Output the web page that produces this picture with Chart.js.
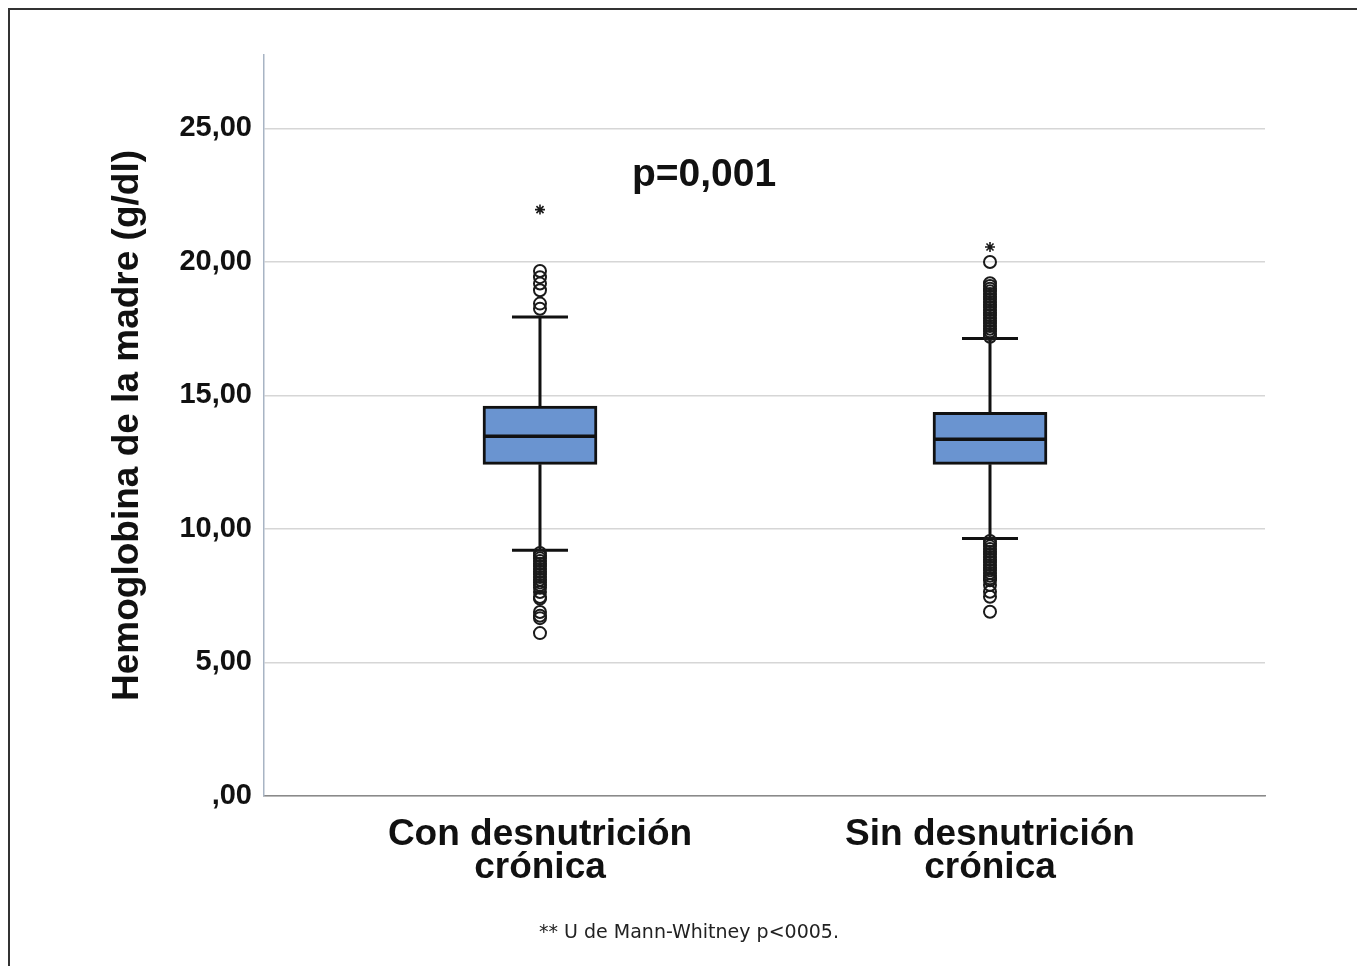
<!DOCTYPE html>
<html>
<head>
<meta charset="utf-8">
<script src="https://cdn.jsdelivr.net/npm/chart.js@4.4.0/dist/chart.umd.min.js"></script>
<style>
  html, body { margin: 0; padding: 0; background: #fff; }
  #wrap { position: relative; width: 1357px; height: 966px; overflow: hidden; }
  #frame { position: absolute; left: 8px; top: 8px; width: 1400px; height: 1000px;
           border-left: 2px solid #333; border-top: 2px solid #333; }
  canvas { position: absolute; left: 0; top: 0; }
  #pval { position: absolute; left: 604px; top: 153px; width: 200px; text-align: center;
          font: bold 39px "Liberation Sans", Arial, sans-serif; line-height: 39px; color: #111; }
  #note { position: absolute; left: 489px; top: 922px; width: 400px; text-align: center;
          font: 19px "DejaVu Sans", Verdana, sans-serif; line-height: 19px; color: #222; }
</style>
</head>
<body>
<div id="wrap">
  <div id="frame"></div>
  <canvas id="boxChart" width="1357" height="966"></canvas>
  <div id="pval">p=0,001</div>
  <div id="note">** U de Mann-Whitney p&lt;0005.</div>
</div>
<script>
// groups on the x axis
const categories = [['Con desnutrición', 'crónica'], ['Sin desnutrición', 'crónica']];

// box statistics (g/dl)
const q1 = [12.42, 12.42];
const median = [13.47, 13.36];
const q3 = [14.60, 14.37];
const whiskerLow = [9.20, 9.64];
const whiskerHigh = [17.94, 17.13];

// outliers (circles) and extremes (stars)
const outliersCon = [19.66, 19.43, 19.19, 18.94, 18.44, 18.25,
  9.1, 9.0, 8.9, 8.8, 8.7, 8.6, 8.5, 8.4, 8.3, 8.2, 8.1, 8.0, 7.9, 7.8, 7.64, 7.45, 7.39, 6.89, 6.75, 6.66, 6.1];
const outliersSin = [20.0, 19.2, 19.1, 19.0, 18.9, 18.8, 18.7, 18.6, 18.5, 18.4, 18.3, 18.2, 18.1, 18.0,
  17.9, 17.8, 17.7, 17.6, 17.5, 17.4, 17.3, 17.2,
  9.55, 9.45, 9.35, 9.25, 9.15, 9.05, 8.95, 8.85, 8.75, 8.65, 8.55, 8.45, 8.35, 8.25, 8.15, 8.08,
  7.9, 7.65, 7.46, 6.9];
const extremesCon = [21.96];
const extremesSin = [20.56];

const yTicks = [0, 5, 10, 15, 20, 25];

const fontFamily = '"Liberation Sans", Arial, sans-serif';

const toPoints = (vals, i) => vals.map(v => ({ x: i, y: v }));

// whiskers behind the boxes, median line on top
const boxLines = {
  id: 'boxLines',
  beforeDatasetsDraw(chart) {
    const { ctx, scales: { x, y } } = chart;
    ctx.save();
    ctx.strokeStyle = '#111';
    ctx.lineWidth = 3;
    categories.forEach((c, i) => {
      const px = x.getPixelForValue(i);
      ctx.beginPath();
      ctx.moveTo(px, y.getPixelForValue(whiskerHigh[i]));
      ctx.lineTo(px, y.getPixelForValue(q3[i]));
      ctx.moveTo(px, y.getPixelForValue(q1[i]));
      ctx.lineTo(px, y.getPixelForValue(whiskerLow[i]));
      [whiskerHigh[i], whiskerLow[i]].forEach(v => {
        const py = y.getPixelForValue(v);
        ctx.moveTo(px - 28, py);
        ctx.lineTo(px + 28, py);
      });
      ctx.stroke();
    });
    ctx.restore();
  },
  afterDatasetsDraw(chart) {
    const { ctx, scales: { x, y } } = chart;
    ctx.save();
    ctx.strokeStyle = '#111';
    ctx.lineWidth = 3.5;
    categories.forEach((c, i) => {
      const px = x.getPixelForValue(i);
      const py = y.getPixelForValue(median[i]);
      ctx.beginPath();
      ctx.moveTo(px - 57, py);
      ctx.lineTo(px + 57, py);
      ctx.stroke();
    });
    ctx.restore();
  }
};

const ctx = document.getElementById('boxChart').getContext('2d');
const chart = new Chart(ctx, {
  type: 'bar',
  data: {
    datasets: [
      {
        type: 'scatter',
        data: toPoints(outliersCon, 0).concat(toPoints(outliersSin, 1)),
        pointStyle: 'circle',
        pointRadius: 6,
        borderWidth: 2,
        borderColor: '#1a1a1a',
        backgroundColor: 'rgba(255,255,255,0)'
      },
      {
        type: 'scatter',
        data: toPoints(extremesCon, 0).concat(toPoints(extremesSin, 1)),
        pointStyle: 'star',
        pointRadius: 5,
        borderWidth: 1.6,
        borderColor: '#1a1a1a'
      },
      {
        type: 'bar',
        data: categories.map((c, i) => ({ x: i, y: [q1[i], q3[i]] })),
        barThickness: 114,
        backgroundColor: '#6a94d0',
        borderColor: '#111',
        borderWidth: 3,
        borderSkipped: false
      }
    ]
  },
  options: {
    responsive: false,
    animation: false,
    devicePixelRatio: 1,
    layout: { padding: { left: 106, right: 92, top: 55, bottom: 0 } },
    plugins: { legend: { display: false }, tooltip: { enabled: false } },
    events: [],
    scales: {
      x: {
        type: 'linear',
        offset: false,
        min: -0.6133,
        max: 1.6111,
        afterBuildTicks: s => { s.ticks = categories.map((c, i) => ({ value: i })); },
        afterFit: s => { s.height = 170; },
        grid: { display: false, offset: false },
        border: { color: '#8a8a8a', width: 1.5 },
        ticks: {
          autoSkip: false,
          maxRotation: 0,
          padding: 14,
          color: '#111',
          font: { family: fontFamily, size: 37, weight: 'bold', lineHeight: 0.9 },
          callback: v => categories[v]
        }
      },
      y: {
        min: 0,
        max: 27.75,
        afterBuildTicks: s => { s.ticks = yTicks.map(v => ({ value: v })); },
        afterFit: s => { s.width = 158; },
        grid: { color: '#d6d6d6', lineWidth: 1.5, drawTicks: false },
        border: { color: '#a8b4c4', width: 1.5 },
        ticks: {
          padding: 12,
          color: '#111',
          font: { family: fontFamily, size: 29, weight: 'bold' },
          callback: v => v === 0 ? ',00' : v.toFixed(2).replace('.', ',')
        },
        title: {
          display: true,
          text: 'Hemoglobina de la madre (g/dl)',
          color: '#111',
          padding: 0,
          font: { family: fontFamily, size: 37, weight: 'bold' }
        }
      }
    }
  },
  plugins: [boxLines]
});
</script>
</body>
</html>
